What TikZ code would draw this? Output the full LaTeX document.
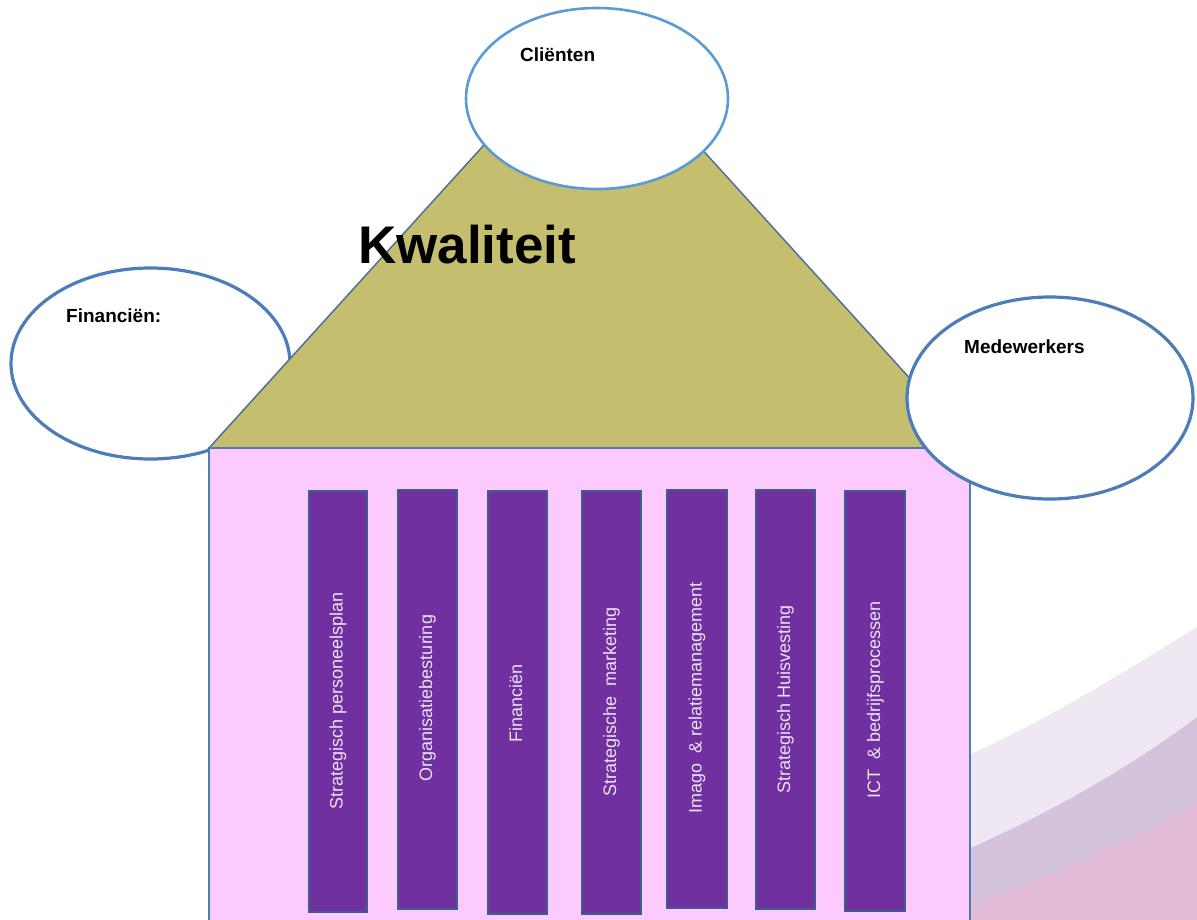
\documentclass[tikz,border=0pt]{standalone}
\usepackage{fontspec}
\setmainfont{Liberation Sans}
\usetikzlibrary{shapes.geometric}
\definecolor{bandA}{RGB}{239,231,242}
\definecolor{bandB}{RGB}{211,195,219}
\definecolor{bandC}{RGB}{227,189,216}
\definecolor{housefill}{RGB}{252,202,252}
\definecolor{houseline}{RGB}{74,126,181}
\definecolor{rooffill}{RGB}{196,190,110}
\definecolor{roofline}{RGB}{78,113,152}
\definecolor{pillarfill}{RGB}{112,48,160}
\definecolor{pillarline}{RGB}{62,92,140}
\definecolor{pillartext}{RGB}{236,226,246}
\definecolor{bubbleA}{RGB}{91,155,213}
\definecolor{bubbleB}{RGB}{76,125,185}
\tikzset{
  bubble/.style={ellipse, fill=white, inner sep=0pt, line width=3.2pt, draw=bubbleB},
  bubblelabel/.style={anchor=base west, inner sep=0pt, font=\fontsize{19}{22}\selectfont\bfseries},
  pillarbox/.style={fill=pillarfill, draw=pillarline, line width=2.5pt},
  pillartxt/.style={rotate=90, anchor=base, inner sep=0pt, text=pillartext, font=\fontsize{18}{21}\selectfont}
}
\begin{document}
\begin{tikzpicture}[x=1pt,y=1pt]
\useasboundingbox (0,0) rectangle (1197,-919);
% background swooshes
\fill[bandA] (950,-763) .. controls (1030,-730) and (1120,-675) .. (1197,-627) -- (1197,-930) -- (950,-930) -- cycle;
\fill[bandB] (950,-857) .. controls (1030,-823) and (1120,-775) .. (1197,-717) -- (1197,-930) -- (950,-930) -- cycle;
\fill[bandC] (950,-910) .. controls (1030,-885) and (1120,-845) .. (1197,-803) -- (1197,-930) -- (950,-930) -- cycle;
% left bubble (behind roof)
\node[bubble, minimum width=279pt, minimum height=191pt] (fin) at (150.5,-363.5) {};
% house body
\draw[fill=housefill, draw=houseline, line width=2.5pt] (209,-448) rectangle (970,-930);
% roof
\draw[fill=rooffill, draw=roofline, line width=1.5pt] (209,-448) -- (591,-27) -- (973,-448) -- cycle;
\draw[draw=houseline, line width=2.5pt] (209,-448) -- (970,-448);
% pillars
\draw[pillarbox] (309,-491) rectangle (367,-912);
\draw[pillarbox] (398,-490) rectangle (457,-909);
\draw[pillarbox] (488,-491) rectangle (547,-914);
\draw[pillarbox] (582,-491) rectangle (641,-914);
\draw[pillarbox] (667,-490) rectangle (727,-908);
\draw[pillarbox] (756,-490) rectangle (815,-909);
\draw[pillarbox] (845,-491) rectangle (905,-911);
\node[pillartxt] (p1) at (342.5,-701) {Strategisch personeelsplan};
\node[pillartxt] (p2) at (432,-698) {Organisatiebesturing};
\node[pillartxt] (p3) at (522,-703) {Financiën};
\node[pillartxt] (p4) at (616,-702) {Strategische\ \ marketing};
\node[pillartxt] (p5) at (701.5,-698) {Imago\ \ \& relatiemanagement};
\node[pillartxt] (p6) at (790,-699) {Strategisch Huisvesting};
\node[pillartxt] (p7) at (880,-700) {ICT\ \ \& bedrijfsprocessen};
% title
\node[anchor=base west, inner sep=0pt, font=\fontsize{53}{60}\selectfont\bfseries] (kw) at (358,-263) {Kwaliteit};
% top and right bubbles
\node[bubble, draw=bubbleA, line width=2.6pt, minimum width=262pt, minimum height=181pt] (cl) at (597,-98.5) {};
\node[bubble, minimum width=286pt, minimum height=202pt] (mw) at (1050,-398) {};
% labels
\node[bubblelabel] (cllab) at (520,-61) {Cliënten};
\node[bubblelabel] (finlab) at (66,-322) {Financiën:};
\node[bubblelabel] (mwlab) at (964,-353) {Medewerkers};
\end{tikzpicture}
\end{document}
